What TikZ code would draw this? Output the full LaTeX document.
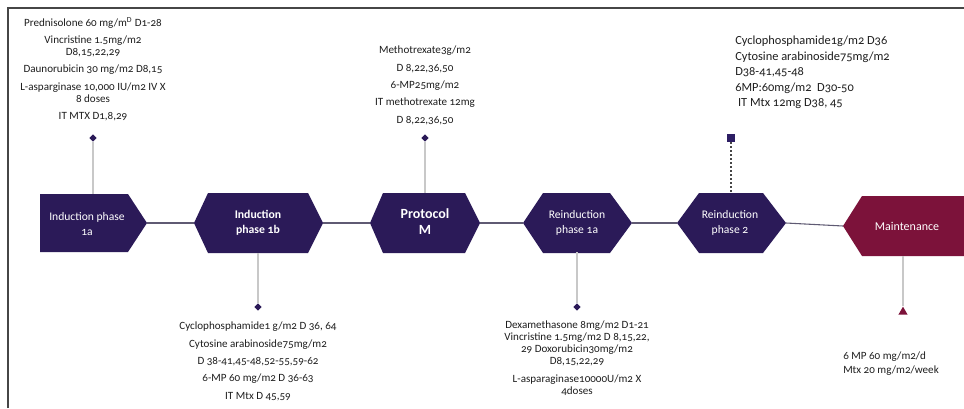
\documentclass[tikz,border=0pt]{standalone}
\usepackage{fontspec}
\setmainfont{Carlito}[Numbers=OldStyle]
\usetikzlibrary{shapes.geometric}
\definecolor{purp}{RGB}{43,26,88}
\definecolor{sqc}{RGB}{45,30,100}
\definecolor{maroon}{RGB}{124,18,58}
\definecolor{txt}{RGB}{30,30,30}
\definecolor{vl}{RGB}{200,200,200}
\definecolor{hl}{RGB}{95,90,115}
\definecolor{brd}{RGB}{70,70,70}
\tikzset{
  phase/.style={fill=purp},
  maint/.style={fill=maroon},
  phlbl/.style={text=white, align=center, inner sep=0pt, font=\fontsize{8.7}{11}\selectfont},
  phbold/.style={text=white, align=center, inner sep=0pt, font=\fontsize{8.8}{11}\selectfont\bfseries},
  phbig/.style={text=white, align=center, inner sep=0pt, font=\fontsize{10.5}{12}\selectfont\bfseries},
  tb/.style={text=txt, align=center, inner sep=0pt, anchor=north, font=\fontsize{8.3}{9}\selectfont},
  tbl/.style={text=txt, align=left, inner sep=0pt, anchor=north west, font=\fontsize{8.3}{9}\selectfont},
  hconn/.style={draw=hl, line width=0.8pt},
  vconn/.style={draw=vl, line width=1.1pt},
  dconn/.style={draw=brd, line width=0.8pt, dash pattern=on 1.5pt off 1.5pt},
  dia/.style={diamond, fill=purp, inner sep=0pt, minimum size=5.5pt},
  sqm/.style={rectangle, fill=sqc, inner sep=0pt, minimum size=6pt},
  trim/.style={regular polygon, regular polygon sides=3, fill=maroon, inner sep=0pt, minimum size=8pt},
  border/.style={draw=brd, line width=1.2pt}
}
\begin{document}
\begin{tikzpicture}[x=0.75pt, y=-0.75pt]
\useasboundingbox (0,0) rectangle (964,408);
\fill[white] (0,0) rectangle (964,408);
% border (top and left)
\draw[border] (8,408) -- (8,8) -- (964,8);

% phase shapes
\fill[phase] (40,194) -- (128,194) -- (147,223) -- (128,252) -- (40,252) -- cycle;
\fill[phase] (194,223) -- (208,193) -- (308,193) -- (323,223) -- (308,253) -- (208,253) -- cycle;
\fill[phase] (370,223) -- (383,193) -- (465,193) -- (480,223) -- (465,253) -- (383,253) -- cycle;
\fill[phase] (523,223) -- (543,193) -- (610,193) -- (632,223) -- (610,253) -- (543,253) -- cycle;
\fill[phase] (677,223) -- (699,193) -- (763,193) -- (786,223) -- (763,253) -- (699,253) -- cycle;
\fill[maint] (843,226) -- (862,196) -- (964,196) -- (964,256) -- (862,256) -- cycle;

% anchor coordinates
\coordinate (n1e) at (147,223);
\coordinate (n2w) at (194,223);
\coordinate (n2e) at (323,223);
\coordinate (n3w) at (370,223);
\coordinate (n3e) at (480,223);
\coordinate (n4w) at (523,223);
\coordinate (n4e) at (632,223);
\coordinate (n5w) at (677,223);
\coordinate (n5e) at (786,223);
\coordinate (n6w) at (843,226);
\coordinate (n1t) at (93,194);
\coordinate (n2b) at (258,253);
\coordinate (n3t) at (425,193);
\coordinate (n4b) at (577,252);
\coordinate (n5t) at (731,193);
\coordinate (n6b) at (903,256);

% phase labels
\node[phlbl] (n1) at (87,224) {Induction phase\\1a};
\node[phbold] (n2) at (258,223) {Induction\\phase 1b};
\node[phbig] (n3) at (425,222) {Protocol\\M};
\node[phlbl] (n4) at (577,223) {Reinduction\\phase 1a};
\node[phlbl] (n5) at (730,223) {Reinduction\\phase 2};
\node[phlbl, font=\fontsize{9}{11}\selectfont] (n6) at (907,226) {Maintenance};

% horizontal connectors
\draw[hconn] (n1e) -- (n2w);
\draw[hconn] (n2e) -- (n3w);
\draw[hconn] (n3e) -- (n4w);
\draw[hconn] (n4e) -- (n5w);
\draw[hconn] (n5e) -- (n6w);

% markers
\node[dia] (m1) at (93,138) {};
\node[dia] (m2) at (258,307) {};
\node[dia] (m3) at (425,138) {};
\node[dia] (m4) at (577,307) {};
\node[sqm] (m5) at (731,138) {};
\node[trim] (m6) at (903,312) {};

% vertical connectors
\draw[vconn] (m1) -- (n1t);
\draw[vconn] (n2b) -- (m2);
\draw[vconn] (m3) -- (n3t);
\draw[vconn] (n4b) -- (m4);
\draw[dconn] (m5) -- (n5t);
\draw[vconn] (n6b) -- (m6);

% text blocks
\node[tb] (t1) at (93,17) {Prednisolone 60 mg/m\textsuperscript{D} D1-28\\[4pt]
 Vincristine 1.5mg/m2\\ D8,15,22,29\\[4pt]
 Daunorubicin 30 mg/m2 D8,15\\[4pt]
 L-asparginase 10,000 IU/m2 IV X\\ 8 doses\\[4pt]
 IT MTX D1,8,29};

\node[tb] (t3) at (425,46) {Methotrexate3g/m2\\[4pt]
 D 8,22,36,50\\[4pt]
 6-MP25mg/m2\\[4pt]
 IT methotrexate 12mg\\[4pt]
 D 8,22,36,50};

\node[tbl, font=\fontsize{9.3}{10}\selectfont] (t5) at (735,36) {Cyclophosphamide1g/m2 D36\\[1.6pt]
 Cytosine arabinoside75mg/m2\\[1.6pt]
 D38-41,45-48\\[1.6pt]
 6MP:60mg/m2\ \ D30-50\\[1.6pt]
 \ IT Mtx 12mg D38, 45};

\node[tb] (t2) at (258,322) {Cyclophosphamide1 g/m2 D 36, 64\\[4pt]
 Cytosine arabinoside75mg/m2\\[4pt]
 D 38-41,45-48,52-55,59-62\\[4pt]
 6-MP 60 mg/m2 D 36-63\\[4pt]
 IT Mtx D 45,59};

\node[tb] (t4) at (577,321) {Dexamethasone 8mg/m2 D1-21\\
 Vincristine 1.5mg/m2 D 8,15,22,\\
 29 Doxorubicin30mg/m2\\
 D8,15,22,29\\[4pt]
 L-asparaginase10000U/m2 X\\
 4doses};

\node[tbl] (t6) at (843,352) {6 MP 60 mg/m2/d\\[1.5pt]
 Mtx 20 mg/m2/week};
\end{tikzpicture}
\end{document}
